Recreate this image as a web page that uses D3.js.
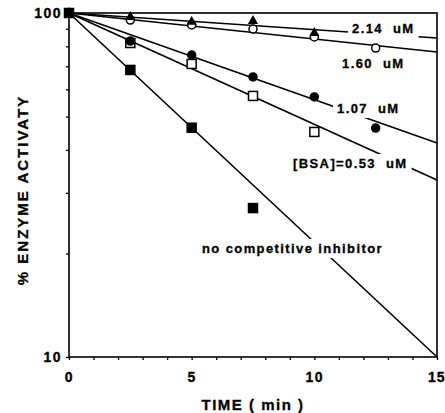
<!DOCTYPE html>
<html>
<head>
<meta charset="utf-8">
<script src="https://cdn.jsdelivr.net/npm/d3@7"></script>
<style>
  body { margin: 0; background: #fff; }
  svg text { font-family: "Liberation Sans", Arial, sans-serif; font-weight: bold; fill: #000; stroke: #000; stroke-width: 0.3px; white-space: pre; }
</style>
</head>
<body>
<svg id="chart" width="445" height="413"></svg>
<script>
// % enzyme activity vs time, semi-log, for several [BSA]

const xTicks = [0, 5, 10, 15];
const yTickLabels = ["10", "100"];

// fitted lines: activity at t = 15 min (all start at 100 %)
const fitNames = ["2.14  uM", "1.60  uM", "1.07  uM", "[BSA]=0.53  uM", "no competitive inhibitor"];
const fitEnd = [84.6, 77.0, 41.9, 32.7, 10];

// measured points
const triT = [0, 2.5, 5, 7.5, 10];
const triV = [100, 97.4, 94.2, 94.8, 87.5];
const openCircT = [2.5, 5, 7.5, 10, 12.5];
const openCircV = [95.4, 92.3, 89.8, 85.2, 79.1];
const fillCircT = [2.5, 5, 7.5, 10, 12.5];
const fillCircV = [82.9, 75.5, 65.2, 57.0, 46.3];
const openSqT = [2.5, 5, 7.5, 10];
const openSqV = [81.8, 71.1, 57.4, 45.1];
const fillSqT = [0, 2.5, 5, 7.5];
const fillSqV = [100, 68.3, 46.4, 27.1];

const L = 69, R = 437, T = 13, B = 357;

const svg = d3.select("#chart");

const x = d3.scaleLinear().domain([0, 15]).range([L, R]);
const y = d3.scaleLog().domain([10, 100]).range([B, T]);

// frame
svg.append("rect")
    .attr("x", L).attr("y", T)
    .attr("width", R - L).attr("height", B - T)
    .attr("fill", "none")
    .attr("stroke", "#000")
    .attr("stroke-width", 1.6);

// axes with minor ticks
const xAxis = d3.axisBottom(x)
    .tickValues(d3.range(0, 16, 1))
    .tickSize(3)
    .tickFormat(d => xTicks.includes(d) ? d : "");
const gx = svg.append("g")
    .attr("transform", `translate(0,${B})`)
    .call(xAxis);
gx.select(".domain").remove();
gx.selectAll("line").attr("stroke-width", 1.3);
gx.selectAll("text")
    .attr("dy", 0)
    .attr("y", 25)
    .attr("font-size", "14px")
    .style("letter-spacing", "1.5px");
// last label sits right at the page edge
gx.selectAll("text").filter(d => d === 15)
    .attr("text-anchor", "end")
    .attr("x", 8)
    .style("letter-spacing", "1px");

const yAxis = d3.axisLeft(y)
    .tickValues(d3.range(10, 101, 10))
    .tickSize(3)
    .tickFormat(d => yTickLabels.includes(String(d)) ? d : "");
const gy = svg.append("g")
    .attr("transform", `translate(${L},0)`)
    .call(yAxis);
gy.select(".domain").remove();
gy.selectAll("line").attr("stroke-width", 1.3);
gy.selectAll("text")
    .attr("x", -7)
    .attr("font-size", "14px")
    .style("letter-spacing", "1.5px");

// fitted lines
const lineGen = d3.line().x(d => x(d[0])).y(d => y(d[1]));
svg.append("g").selectAll("path")
    .data(fitEnd)
    .join("path")
    .attr("d", v => lineGen([[0, 100], [15, v]]))
    .attr("fill", "none")
    .attr("stroke", "#000")
    .attr("stroke-width", 1.6);

// line labels with white backing so lines break around them
const labelPos = [
    [352, 33], [342, 68], [337, 113], [293, 168], [202, 253]
];
const labelG = svg.append("g");
fitNames.forEach((name, i) => {
    const t = labelG.append("text")
        .attr("x", labelPos[i][0])
        .attr("y", labelPos[i][1])
        .attr("font-size", "13px")
        .style("letter-spacing", "1.4px")
        .text(name);
    const bb = t.node().getBBox();
    labelG.insert("rect", "text")
        .attr("x", bb.x - 4).attr("y", bb.y - 2)
        .attr("width", bb.width + 8).attr("height", bb.height + 4)
        .attr("fill", "#fff");
});

// markers
const sq = 9;
function squares(ts, vs, fill) {
    svg.append("g").selectAll("rect")
        .data(ts.map((t, i) => [t, vs[i]]))
        .join("rect")
        .attr("x", d => x(d[0]) - sq / 2)
        .attr("y", d => y(d[1]) - sq / 2)
        .attr("width", sq).attr("height", sq)
        .attr("fill", fill)
        .attr("stroke", "#000")
        .attr("stroke-width", 1.5);
}
function circles(ts, vs, fill) {
    svg.append("g").selectAll("circle")
        .data(ts.map((t, i) => [t, vs[i]]))
        .join("circle")
        .attr("cx", d => x(d[0]))
        .attr("cy", d => y(d[1]))
        .attr("r", 4)
        .attr("fill", fill)
        .attr("stroke", "#000")
        .attr("stroke-width", 1.5);
}
circles(openCircT, openCircV, "#fff");
svg.append("g").selectAll("path")
    .data(triT.map((t, i) => [t, triV[i]]))
    .join("path")
    .attr("transform", d => `translate(${x(d[0])},${y(d[1])})`)
    .attr("d", d3.symbol(d3.symbolTriangle, 45))
    .attr("fill", "#000");
squares(openSqT, openSqV, "#fff");
circles(fillCircT, fillCircV, "#000");
squares(fillSqT, fillSqV, "#000");

// axis titles
svg.append("text")
    .attr("x", (L + R) / 2)
    .attr("y", 410)
    .attr("text-anchor", "middle")
    .attr("font-size", "15px")
    .style("letter-spacing", "1.5px")
    .text("TIME ( min )");

svg.append("text")
    .attr("transform", `translate(28,${(T + B) / 2 + 5}) rotate(-90)`)
    .attr("text-anchor", "middle")
    .attr("font-size", "15px")
    .style("letter-spacing", "2px")
    .text("% ENZYME ACTIVATY");
</script>
</body>
</html>
